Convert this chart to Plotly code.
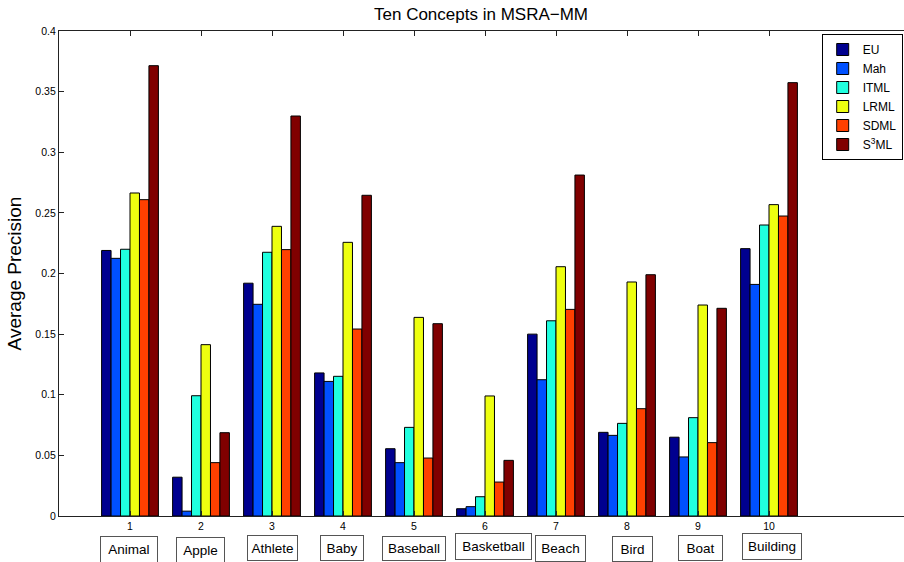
import plotly.graph_objects as go

# ---------------- data ----------------
categories = ["Animal", "Apple", "Athlete", "Baby", "Baseball",
              "Basketball", "Beach", "Bird", "Boat", "Building"]
tick_values = [1, 2, 3, 4, 5, 6, 7, 8, 9, 10]
tick_labels = ["1", "2", "3", "4", "5", "6", "7", "8", "9", "10"]

series_names = ["EU", "Mah", "ITML", "LRML", "SDML", "S<sup>3</sup>ML"]
EU = [0.219, 0.032, 0.192, 0.118, 0.0555, 0.006, 0.150, 0.069, 0.065, 0.2205]
Mah = [0.2125, 0.004, 0.1746, 0.111, 0.044, 0.0077, 0.1124, 0.0665, 0.0487, 0.191]
ITML = [0.220, 0.0992, 0.2175, 0.1152, 0.0731, 0.0159, 0.161, 0.0764, 0.0811, 0.240]
LRML = [0.2664, 0.1413, 0.2389, 0.2257, 0.1638, 0.099, 0.2056, 0.193, 0.174, 0.2568]
SDML = [0.2609, 0.044, 0.2197, 0.1542, 0.0478, 0.028, 0.1704, 0.0885, 0.0605, 0.2474]
S3ML = [0.3714, 0.0687, 0.3299, 0.2645, 0.1586, 0.0459, 0.2812, 0.199, 0.1713, 0.3574]
series_values = [EU, Mah, ITML, LRML, SDML, S3ML]

# ---------------- styles / layout ----------------
colors = ["#00008F", "#0050FF", "#20FFDF", "#EEFF10", "#FF4000", "#800000"]
FONT = "Liberation Sans, Arial, Helvetica, sans-serif"

W, H = 904, 562
ML, MR, MT, MB = 59, 0, 31, 46
PW = W - ML - MR
PH = H - MT - MB
PX_PER_UNIT = 71.0
XMAX = PW / PX_PER_UNIT

# category label boxes: (x offset px from tick, box centre y px, box w, box h)
label_boxes = [(-0.8, 549.5, 57, 26), (-0.5, 550, 48, 25), (0.3, 548.4, 50, 25),
               (-0.7, 547.8, 43, 25), (0, 548.7, 63, 24), (8.2, 546.3, 76, 26),
               (4, 548.8, 50, 26), (5.3, 549.2, 40, 25), (2.3, 547.5, 44, 25),
               (2.7, 546.3, 59, 26)]

fig = go.Figure()
for name, vals, col in zip(series_names, series_values, colors):
    fig.add_trace(go.Bar(
        x=tick_values, y=vals, name=name,
        marker=dict(color=col, line=dict(color="black", width=1)),
    ))

annotations = []
for cat, tv, (dx, cy, bw, bh) in zip(categories, tick_values, label_boxes):
    annotations.append(dict(
        text=cat, xref="x", x=tv + dx / PX_PER_UNIT,
        yref="paper", y=(H - MB - cy) / PH,
        xanchor="center", yanchor="middle", showarrow=False,
        width=bw - 1, height=bh - 1, borderpad=0,
        bordercolor="#555555", borderwidth=1, bgcolor="white",
        font=dict(family=FONT, size=13.5, color="black"),
        align="center", valign="middle",
    ))

axis_common = dict(
    showline=True, linecolor="#222222", linewidth=1.2,
    ticks="inside", ticklen=5, tickcolor="#222222", tickwidth=1,
    showgrid=False, zeroline=False,
    tickfont=dict(family=FONT, size=10.5, color="black"),
)

fig.update_layout(
    width=W, height=H,
    margin=dict(l=ML, r=MR, t=MT, b=MB, autoexpand=False),
    paper_bgcolor="white", plot_bgcolor="white",
    barmode="group", bargap=0.2, bargroupgap=0,
    title=dict(text="Ten Concepts in MSRA\u2212MM", xref="container", x=481 / W,
               xanchor="center", yref="container", y=1 - 14 / H, yanchor="middle",
               font=dict(family=FONT, size=17, color="black")),
    xaxis=dict(range=[0, XMAX], tickmode="array", tickvals=tick_values,
               ticktext=tick_labels, mirror="ticks", **axis_common),
    yaxis=dict(range=[0, 0.4], tickmode="linear", tick0=0, dtick=0.05,
               title=dict(text="Average Precision", standoff=8,
                          font=dict(family=FONT, size=19, color="black")),
               **axis_common),
    legend=dict(x=(821.7 - ML) / PW, y=(H - MB - 34) / PH, xanchor="left", yanchor="top",
                bgcolor="white", bordercolor="black", borderwidth=1,
                font=dict(family=FONT, size=12, color="black"),
                tracegroupgap=0, traceorder="normal"),
    annotations=annotations,
    showlegend=True,
)

fig.write_html(
    "out.html",
    config={"displayModeBar": False},
    post_script="document.body.style.margin='0px';document.body.style.overflow='hidden';",
)
